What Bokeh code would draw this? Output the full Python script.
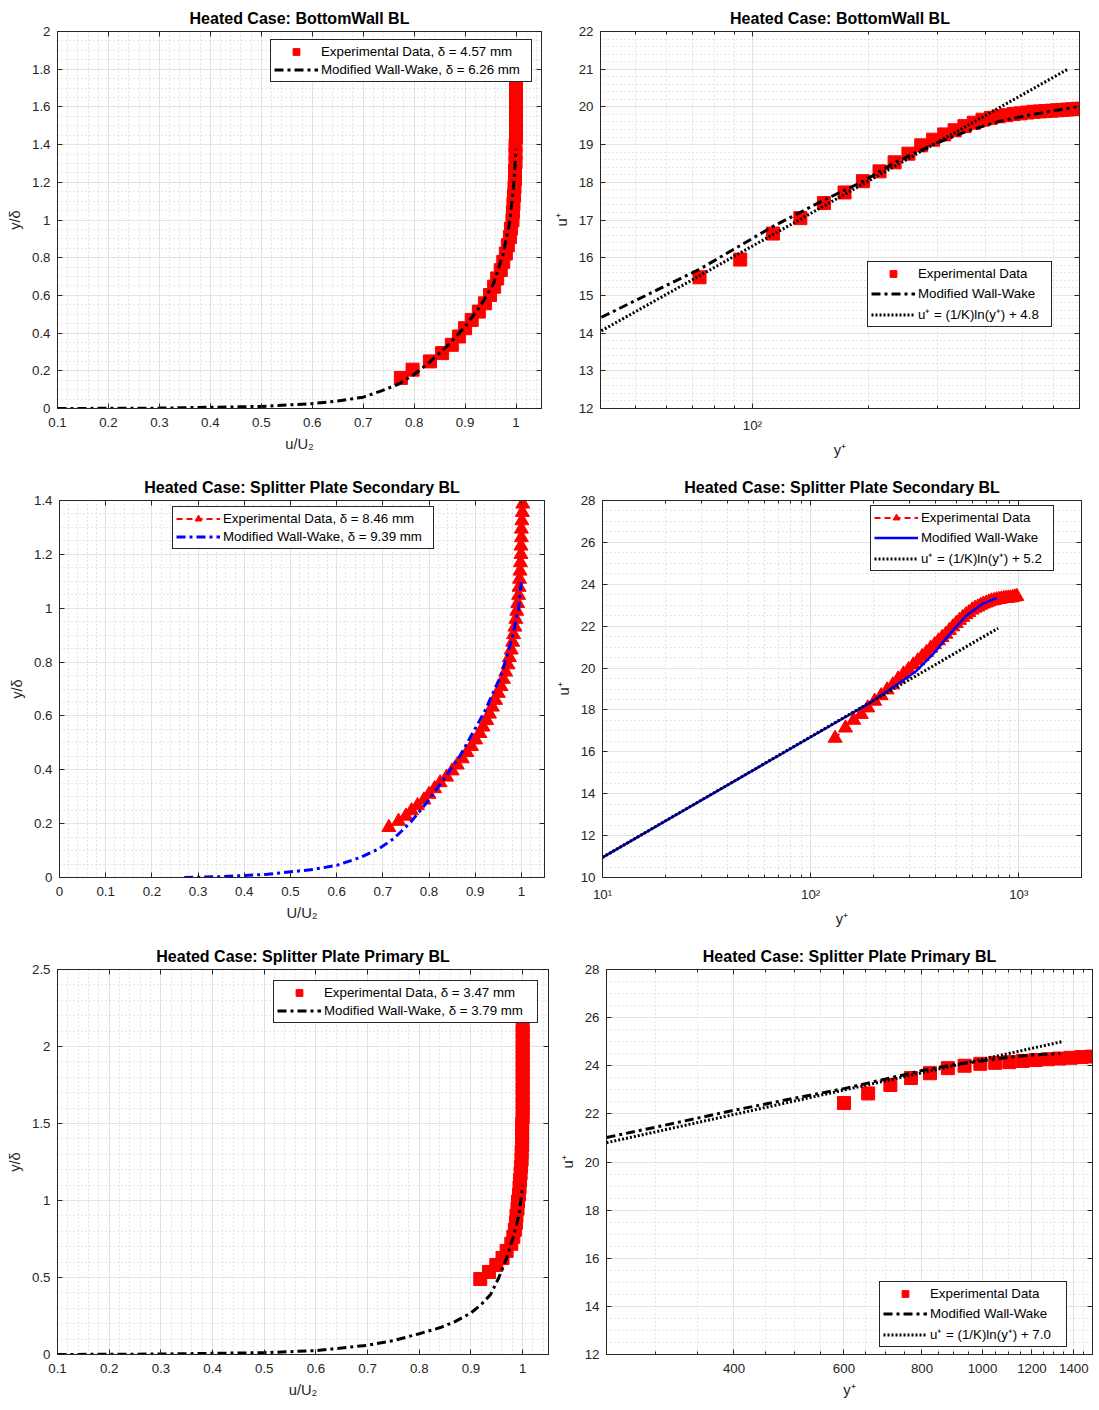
import numpy as np
from bokeh.plotting import figure
from bokeh.models import (Range1d, FixedTicker, LinearAxis, LogAxis,
                          CustomJSTickFormatter, Legend, LegendItem)
from bokeh.layouts import column, row
from bokeh.embed import file_html
from bokeh.resources import INLINE

# ---------------- data: Bottom wall BL ----------------
bw_exp_ydelta = [0.162, 0.206, 0.250, 0.294, 0.338, 0.382, 0.426, 0.470, 0.514, 0.558,
                 0.602, 0.646, 0.690, 0.734, 0.778, 0.822, 0.866, 0.910, 0.954, 0.998,
                 1.042, 1.086, 1.130, 1.174, 1.218, 1.262, 1.306, 1.350, 1.394, 1.438,
                 1.482, 1.526, 1.570, 1.614, 1.658, 1.702, 1.746]
bw_exp_u = [0.774, 0.797, 0.831, 0.855, 0.874, 0.888, 0.900, 0.913, 0.927, 0.939,
            0.949, 0.957, 0.963, 0.970, 0.975, 0.980, 0.984, 0.988, 0.990, 0.993,
            0.994, 0.995, 0.996, 0.997, 0.998, 0.998, 0.999, 0.999, 0.999, 1.000,
            1.000, 1.000, 1.000, 1.000, 1.000, 1.000, 1.000]
bw_model_u = [0.1, 0.3, 0.5, 0.6, 0.65, 0.7, 0.733, 0.77, 0.799, 0.83, 0.864, 0.9,
              0.929, 0.956, 0.975, 0.988, 0.995, 1.0]
bw_model_ydelta = [0.0, 0.002, 0.011, 0.026, 0.04, 0.06, 0.091, 0.13, 0.179, 0.245,
                   0.329, 0.434, 0.54, 0.663, 0.822, 0.997, 1.173, 1.375]
bw_exp_yplus = [73, 93, 113, 133, 153, 173, 193, 213, 233, 253, 273, 293, 313, 333, 353,
                373, 393, 413, 433, 453, 473, 493, 513, 533, 553, 573, 593, 613, 633, 653,
                673, 693, 713, 733, 753, 773, 793]
bw_exp_uplus = [15.48, 15.95, 16.64, 17.05, 17.45, 17.73, 18.03, 18.29, 18.53, 18.76,
                18.98, 19.13, 19.27, 19.38, 19.49, 19.58, 19.66, 19.71, 19.75, 19.78,
                19.81, 19.83, 19.85, 19.87, 19.88, 19.89, 19.90, 19.91, 19.92, 19.93,
                19.94, 19.95, 19.95, 19.96, 19.96, 19.97, 19.97]
bw_model_yplus = [40.7, 73.2, 113, 153.8, 193.7, 233.5, 293, 357, 435, 530, 686]
bw_model_uplus = [14.42, 15.70, 16.83, 17.54, 18.03, 18.53, 19.0, 19.35, 19.62, 19.8, 20.0]
bw_log_yplus = [40.7, 653]
bw_log_uplus = [14.06, 21.0]

# ---------------- data: Splitter plate secondary BL ----------------
sec_exp_ydelta = [0.186, 0.209, 0.228, 0.248, 0.267, 0.288, 0.309, 0.330, 0.352, 0.373,
                  0.396, 0.418, 0.441, 0.464, 0.487, 0.511, 0.535, 0.559, 0.583, 0.607,
                  0.633, 0.658, 0.684, 0.709, 0.736, 0.763, 0.790, 0.817, 0.845, 0.874,
                  0.902, 0.930, 0.959, 0.989, 1.018, 1.048, 1.078, 1.108, 1.138, 1.169,
                  1.200, 1.231, 1.262, 1.294, 1.325, 1.356, 1.387]
sec_exp_u = [0.713, 0.734, 0.750, 0.762, 0.775, 0.789, 0.800, 0.812, 0.824, 0.838,
             0.850, 0.861, 0.872, 0.882, 0.892, 0.901, 0.910, 0.917, 0.925, 0.931,
             0.937, 0.944, 0.950, 0.956, 0.961, 0.966, 0.971, 0.974, 0.978, 0.981,
             0.983, 0.986, 0.988, 0.990, 0.992, 0.994, 0.995, 0.996, 0.997, 0.998,
             0.999, 0.999, 1.000, 1.000, 1.001, 1.002, 1.003]
sec_model_u = [0.27, 0.35, 0.45, 0.55, 0.6, 0.652, 0.69, 0.724, 0.76, 0.796, 0.83,
               0.868, 0.92, 0.957, 0.98, 0.994, 1.0]
sec_model_ydelta = [0.0, 0.003, 0.012, 0.03, 0.045, 0.075, 0.105, 0.145, 0.205, 0.28,
                    0.36, 0.455, 0.615, 0.755, 0.89, 1.0, 1.104]
sec_exp_yplus = [131, 147, 161, 175, 188, 203, 218, 233, 248, 263, 279, 295, 311, 327,
                 343, 360, 377, 394, 411, 428, 446, 464, 482, 500, 519, 538, 557, 576,
                 596, 616, 636, 656, 676, 697, 718, 739, 760, 781, 802, 824, 846, 868,
                 890, 912, 934, 956, 978]
sec_exp_uplus = [16.65, 17.14, 17.51, 17.79, 18.10, 18.42, 18.68, 18.96, 19.20, 19.48,
                 19.72, 19.93, 20.15, 20.35, 20.55, 20.75, 20.95, 21.12, 21.30, 21.46,
                 21.62, 21.80, 21.97, 22.13, 22.28, 22.42, 22.55, 22.65, 22.77, 22.86,
                 22.92, 23.00, 23.06, 23.11, 23.16, 23.21, 23.23, 23.26, 23.28, 23.30,
                 23.33, 23.33, 23.35, 23.35, 23.37, 23.40, 23.42]
sec_model_yplus = [10, 100, 190, 250, 322, 387, 466, 560, 673, 783]
sec_model_uplus = [10.96, 16.71, 18.3, 19.1, 19.86, 20.66, 21.63, 22.51, 23.08, 23.35]
sec_log_yplus = [10, 795]
sec_log_uplus = [10.96, 21.9]

# ---------------- data: Splitter plate primary BL ----------------
pri_exp_ydelta = [0.490, 0.536, 0.581, 0.627, 0.673, 0.719, 0.764, 0.810, 0.856, 0.901,
                  0.947, 0.993, 1.039, 1.084, 1.130, 1.176, 1.221, 1.267, 1.313, 1.359,
                  1.404, 1.450, 1.496, 1.541, 1.587, 1.633, 1.679, 1.724, 1.770, 1.816,
                  1.861, 1.907, 1.953, 1.998, 2.044, 2.090, 2.136]
pri_exp_u = [0.918, 0.935, 0.949, 0.961, 0.969, 0.978, 0.982, 0.985, 0.987, 0.988,
             0.990, 0.991, 0.993, 0.994, 0.995, 0.996, 0.997, 0.998, 0.998, 0.999,
             0.999, 0.999, 0.999, 1.000, 1.000, 1.000, 1.000, 1.000, 1.000, 1.000,
             1.000, 1.000, 1.000, 1.000, 1.000, 1.000, 1.000]
pri_model_u = [0.1, 0.3, 0.5, 0.6, 0.7, 0.75, 0.8, 0.841, 0.87, 0.9, 0.92, 0.938,
               0.954, 0.97, 0.983, 0.993, 1.0]
pri_model_ydelta = [0.0, 0.003, 0.012, 0.025, 0.06, 0.09, 0.135, 0.175, 0.215, 0.27,
                    0.325, 0.39, 0.5, 0.635, 0.777, 0.907, 1.097]
pri_exp_yplus = [600, 656, 712, 768, 824, 880, 936, 992, 1048, 1104, 1160, 1216, 1272,
                 1328, 1384, 1440, 1496, 1552, 1608, 1664, 1720, 1776, 1832, 1888, 1944,
                 2000, 2056, 2112, 2168, 2224, 2280, 2336, 2392, 2448, 2504, 2560, 2616]
pri_exp_uplus = [22.45, 22.85, 23.20, 23.49, 23.69, 23.90, 24.00, 24.08, 24.12, 24.15,
                 24.20, 24.24, 24.27, 24.30, 24.33, 24.36, 24.38, 24.40, 24.41, 24.42,
                 24.43, 24.43, 24.44, 24.44, 24.45, 24.45, 24.45, 24.45, 24.45, 24.45,
                 24.45, 24.45, 24.45, 24.45, 24.45, 24.45, 24.45]
pri_model_yplus = [250, 300, 400, 500, 600, 700, 800, 900, 1000, 1100, 1200, 1332]
pri_model_uplus = [21.02, 21.45, 22.15, 22.65, 23.05, 23.45, 23.8, 24.05, 24.2, 24.35,
                   24.45, 24.5]
pri_log_yplus = [250, 1345]
pri_log_uplus = [20.8, 25.01]

# ---------------- styling ----------------
FONT = "Liberation Sans"
TXT = "#262626"
GRID = "#e3e3e3"
MGRID = "#cccccc"
RED = "#ff0000"
BLUE = "#0000ff"
DASHDOT = "9 4 3 4"
DOT = "2 2"

LIN_FMT = "return (Math.round(tick*1000)/1000).toString();"
POW_FMT = ("const m = {10:'10\u00b9', 100:'10\u00b2', 1000:'10\u00b3'};"
           "const k = Math.round(tick); return (k in m) ? m[k] : k.toString();")
INT_FMT = "return Math.round(tick).toString();"
EMPTY_FMT = "return '';"


def rng(a, b, s):
    return [round(v, 4) for v in np.arange(a, b + s / 2, s)]


def logminor(lo, hi):
    out = []
    for d in (1, 10, 100, 1000):
        for m in range(2, 10):
            v = m * d
            if lo <= v <= hi:
                out.append(v)
    return out


def style_axis(ax, ticker, code, label, minor_in, standoff):
    ax.ticker = ticker
    ax.formatter = CustomJSTickFormatter(code=code)
    ax.axis_label = label
    ax.axis_label_text_font = FONT
    ax.axis_label_text_font_size = "14.7px"
    ax.axis_label_text_font_style = "normal"
    ax.axis_label_text_color = TXT
    ax.axis_label_standoff = 6
    ax.major_label_text_font = FONT
    ax.major_label_text_font_size = "13.3px"
    ax.major_label_text_color = TXT
    ax.major_label_standoff = standoff
    ax.axis_line_color = TXT
    ax.major_tick_line_color = TXT
    ax.minor_tick_line_color = TXT if minor_in else None
    ax.major_tick_in = 5
    ax.major_tick_out = 0
    ax.minor_tick_in = minor_in
    ax.minor_tick_out = 0


def dummy_axis(cls, ticker, minor_in):
    return cls(ticker=ticker, formatter=CustomJSTickFormatter(code=EMPTY_FMT),
               major_label_text_font_size="0px", major_label_standoff=0,
               axis_line_color=TXT, major_tick_line_color=TXT,
               minor_tick_line_color=TXT if minor_in else None,
               major_tick_in=5, major_tick_out=0, minor_tick_in=minor_in, minor_tick_out=0)


def make_fig(w, h, bl, br, bt, bb, xr, yr, xlog, title, xlabel, ylabel,
             xticks, xminor, yticks, yminor, xcode):
    p = figure(width=w, height=h, x_range=Range1d(*xr), y_range=Range1d(*yr),
               x_axis_type="log" if xlog else "linear",
               output_backend="svg", toolbar_location=None,
               min_border_left=bl, min_border_right=br, min_border_top=bt, min_border_bottom=bb,
               background_fill_color="white", border_fill_color="white",
               outline_line_color=TXT, outline_line_width=1, title=title)
    xt = FixedTicker(ticks=xticks, minor_ticks=xminor)
    yt = FixedTicker(ticks=yticks, minor_ticks=yminor)
    xm = 3 if xlog else 0
    style_axis(p.xaxis[0], xt, xcode, xlabel, xm, 9)
    style_axis(p.yaxis[0], yt, LIN_FMT, ylabel, 0, 7)
    p.xgrid[0].ticker = xt
    p.ygrid[0].ticker = yt
    for g in (p.xgrid[0], p.ygrid[0]):
        g.grid_line_color = GRID
        g.grid_line_width = 1
        g.minor_grid_line_color = MGRID
        g.minor_grid_line_dash = "1 3"
        g.minor_grid_line_width = 1
    p.add_layout(dummy_axis(LogAxis if xlog else LinearAxis, xt, xm), "above")
    p.add_layout(dummy_axis(LinearAxis, yt, 0), "right")
    p.title.align = "center"
    p.title.text_font = FONT
    p.title.text_font_size = "16px"
    p.title.text_font_style = "bold"
    p.title.text_color = "#000000"
    p.title.standoff = 10
    return p


def add_legend(p, items, loc, spacing, lw):
    leg = Legend(items=[LegendItem(label=l, renderers=r) for l, r in items],
                 location=loc, orientation="vertical",
                 border_line_color=TXT, border_line_width=1, border_line_alpha=1,
                 background_fill_color="white", background_fill_alpha=1,
                 label_text_font=FONT, label_text_font_size="13.3px",
                 label_text_color="#000000", glyph_width=44, glyph_height=17,
                 label_height=17, label_width=lw, spacing=spacing, padding=3, margin=0,
                 label_standoff=3)
    p.add_layout(leg)


# ---------------- Panel 1 ----------------
p1 = make_fig(550, 465, 57, 9, 31, 57, (0.1, 1.05), (0, 2), False,
              "Heated Case: BottomWall BL", "u/U\u2082", "y/\u03b4",
              rng(0.1, 1.0, 0.1), rng(0.1, 1.05, 0.02), rng(0, 2, 0.2), rng(0, 2, 0.05), LIN_FMT)
r1a = p1.scatter(bw_exp_u, bw_exp_ydelta, marker="square", size=13, color=RED)
r1b = p1.line(bw_model_u, bw_model_ydelta, line_color="black", line_width=3, line_dash=DASHDOT)
add_legend(p1, [("Experimental Data, \u03b4 = 4.57 mm", [r1a]),
                ("Modified Wall-Wake, \u03b4 = 6.26 mm", [r1b])], (213, 326), 1, 207)

# ---------------- Panel 2 ----------------
p2 = make_fig(549, 465, 50, 20, 31, 57, (40.5, 700), (12, 22), True,
              "Heated Case: BottomWall BL", "y\u207a", "u\u207a",
              [100], logminor(40, 700), rng(12, 22, 1), rng(12, 22, 0.2), POW_FMT)
r2a = p2.scatter(bw_exp_yplus, bw_exp_uplus, marker="square", size=13, color=RED)
r2b = p2.line(bw_model_yplus, bw_model_uplus, line_color="black", line_width=3, line_dash=DASHDOT)
r2c = p2.line(bw_log_yplus, bw_log_uplus, line_color="black", line_width=3, line_dash=DOT)
add_legend(p2, [("Experimental Data", [r2a]), ("Modified Wall-Wake", [r2b]),
                ("u\u207a = (1/K)ln(y\u207a) + 4.8", [r2c])], (267, 81), 3, 130)

# ---------------- Panel 3 ----------------
p3 = make_fig(550, 470, 59, 6, 35, 58, (0, 1.05), (0, 1.4), False,
              "Heated Case: Splitter Plate Secondary BL", "U/U\u2082", "y/\u03b4",
              rng(0, 1.0, 0.1), rng(0, 1.05, 0.02), rng(0, 1.4, 0.2), rng(0, 1.4, 0.05), LIN_FMT)
r3l = p3.line(sec_exp_u, sec_exp_ydelta, line_color=RED, line_width=2, line_dash="6 4")
r3a = p3.scatter(sec_exp_u, sec_exp_ydelta, marker="triangle", size=14, color=RED)
r3b = p3.line(sec_model_u, sec_model_ydelta, line_color=BLUE, line_width=3, line_dash=DASHDOT)
add_legend(p3, [("Experimental Data, \u03b4 = 8.46 mm", [r3l, r3a]),
                ("Modified Wall-Wake, \u03b4 = 9.39 mm", [r3b])], (113, 328), 1, 207)

# ---------------- Panel 4 ----------------
p4 = make_fig(549, 470, 52, 18, 35, 58, (10, 2000), (10, 28), True,
              "Heated Case: Splitter Plate Secondary BL", "y\u207a", "u\u207a",
              [10, 100, 1000], logminor(10, 2000), rng(10, 28, 2), rng(10, 28, 0.5), POW_FMT)
r4l = p4.line(sec_exp_yplus, sec_exp_uplus, line_color=RED, line_width=2, line_dash="6 4")
r4a = p4.scatter(sec_exp_yplus, sec_exp_uplus, marker="triangle", size=14, color=RED)
r4b = p4.line(sec_model_yplus, sec_model_uplus, line_color=BLUE, line_width=2.5)
r4c = p4.line(sec_log_yplus, sec_log_uplus, line_color="black", line_width=3, line_dash=DOT)
add_legend(p4, [("Experimental Data", [r4l, r4a]), ("Modified Wall-Wake", [r4b]),
                ("u\u207a = (1/K)ln(y\u207a) + 5.2", [r4c])], (268, 306), 3, 129)

# ---------------- Panel 5 ----------------
p5 = make_fig(550, 475, 57, 2, 34, 56, (0.1, 1.05), (0, 2.5), False,
              "Heated Case: Splitter Plate Primary BL", "u/U\u2082", "y/\u03b4",
              rng(0.1, 1.0, 0.1), rng(0.1, 1.05, 0.02), rng(0, 2.5, 0.5), rng(0, 2.5, 0.1), LIN_FMT)
r5a = p5.scatter(pri_exp_u, pri_exp_ydelta, marker="square", size=13, color=RED)
r5b = p5.line(pri_model_u, pri_model_ydelta, line_color="black", line_width=3, line_dash=DASHDOT)
add_legend(p5, [("Experimental Data, \u03b4 = 3.47 mm", [r5a]),
                ("Modified Wall-Wake, \u03b4 = 3.79 mm", [r5b])], (216, 331), 1, 210)

# ---------------- Panel 6 ----------------
p6 = make_fig(549, 475, 56, 7, 34, 56, (250, 1500), (12, 28), True,
              "Heated Case: Splitter Plate Primary BL", "y\u207a", "u\u207a",
              rng(400, 1400, 200), [v for v in rng(250, 1500, 50) if v % 200 != 0],
              rng(12, 28, 2), rng(12, 28, 0.5), INT_FMT)
r6a = p6.scatter(pri_exp_yplus, pri_exp_uplus, marker="square", size=13, color=RED)
r6b = p6.line(pri_model_yplus, pri_model_uplus, line_color="black", line_width=3, line_dash=DASHDOT)
r6c = p6.line(pri_log_yplus, pri_log_uplus, line_color="black", line_width=3, line_dash=DOT)
add_legend(p6, [("Experimental Data", [r6a]), ("Modified Wall-Wake", [r6b]),
                ("u\u207a = (1/K)ln(y\u207a) + 7.0", [r6c])], (273, 7), 3, 133)

layout = column(row(p1, p2), row(p3, p4), row(p5, p6))
open("out.html", "w").write(file_html(layout, INLINE))
